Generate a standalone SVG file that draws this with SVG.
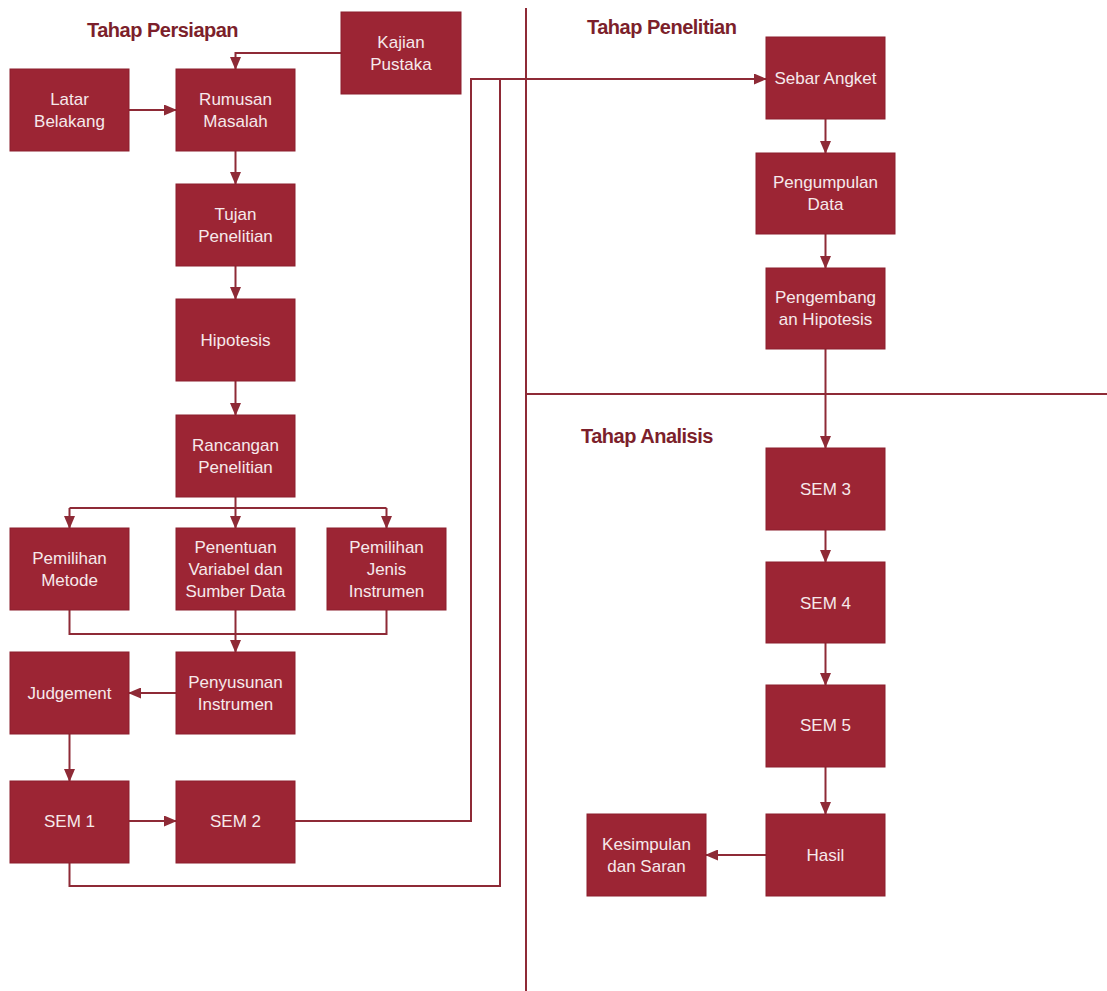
<svg xmlns="http://www.w3.org/2000/svg" width="1107" height="991" viewBox="0 0 1107 991">
<style>
.box{fill:#9c2534;stroke:#8c1f2d;stroke-width:1}
.t{font-family:"Liberation Sans",Arial,sans-serif;font-size:17px;fill:#f6e9eb;text-anchor:middle}
.title{font-family:"Liberation Sans",Arial,sans-serif;font-size:20px;font-weight:bold;fill:#7c1f2b;letter-spacing:-0.5px}
.c{fill:none;stroke:#8e2a36;stroke-width:2}
.a{marker-end:url(#arr)}
</style>
<defs>
<marker id="arr" viewBox="0 0 13 11" refX="12" refY="5.5" markerWidth="13" markerHeight="11" markerUnits="userSpaceOnUse" orient="auto">
<path d="M0,0 L13,5.5 L0,11 z" fill="#8e2a36"/>
</marker>
</defs>
<rect width="1107" height="991" fill="#ffffff"/>

<g id="titles">
<text class="title" x="87" y="37">Tahap Persiapan</text>
<text class="title" x="587" y="34">Tahap Penelitian</text>
<text class="title" x="581" y="443">Tahap Analisis</text>
</g>

<g id="connectors">
<path class="c" d="M526,8 V991"/>
<path class="c" d="M526,394 H1107"/>
<path class="c a" d="M341,53 H235.5 V69"/>
<path class="c a" d="M129,110 H176"/>
<path class="c a" d="M235.5,151 V184"/>
<path class="c a" d="M235.5,266 V299"/>
<path class="c a" d="M235.5,381 V415"/>
<path class="c" d="M235.5,497 V508 M69.5,508 H386.5"/>
<path class="c a" d="M69.5,508 V528"/>
<path class="c a" d="M235.5,508 V528"/>
<path class="c a" d="M386.5,508 V528"/>
<path class="c" d="M69.5,610 V634 H386.5 V610"/>
<path class="c a" d="M235.5,610 V652"/>
<path class="c a" d="M176,693 H129"/>
<path class="c a" d="M69.5,734 V781"/>
<path class="c a" d="M129,821 H176"/>
<path class="c a" d="M295,821 H471 V79 H766"/>
<path class="c" d="M69.5,863 V886 H500 V79"/>
<path class="c a" d="M825.5,119 V153"/>
<path class="c a" d="M825.5,234 V268"/>
<path class="c a" d="M825.5,349 V448"/>
<path class="c a" d="M825.5,530 V562"/>
<path class="c a" d="M825.5,643 V685"/>
<path class="c a" d="M825.5,767 V814"/>
<path class="c a" d="M766,855 H706"/>
</g>

<g id="kajian"><rect class="box" x="341" y="12" width="120" height="82"/><text class="t" x="401" y="48">Kajian</text><text class="t" x="401" y="70">Pustaka</text></g>
<g id="latar"><rect class="box" x="10" y="69" width="119" height="82"/><text class="t" x="69.5" y="105">Latar</text><text class="t" x="69.5" y="127">Belakang</text></g>
<g id="rumusan"><rect class="box" x="176" y="69" width="119" height="82"/><text class="t" x="235.5" y="105">Rumusan</text><text class="t" x="235.5" y="127">Masalah</text></g>
<g id="tujan"><rect class="box" x="176" y="184" width="119" height="82"/><text class="t" x="235.5" y="220">Tujan</text><text class="t" x="235.5" y="242">Penelitian</text></g>
<g id="hipotesis"><rect class="box" x="176" y="299" width="119" height="82"/><text class="t" x="235.5" y="346">Hipotesis</text></g>
<g id="rancangan"><rect class="box" x="176" y="415" width="119" height="82"/><text class="t" x="235.5" y="451">Rancangan</text><text class="t" x="235.5" y="473">Penelitian</text></g>
<g id="metode"><rect class="box" x="10" y="528" width="119" height="82"/><text class="t" x="69.5" y="564">Pemilihan</text><text class="t" x="69.5" y="586">Metode</text></g>
<g id="penentuan"><rect class="box" x="176" y="528" width="119" height="82"/><text class="t" x="235.5" y="553">Penentuan</text><text class="t" x="235.5" y="575">Variabel dan</text><text class="t" x="235.5" y="597">Sumber Data</text></g>
<g id="jenis"><rect class="box" x="327" y="528" width="119" height="82"/><text class="t" x="386.5" y="553">Pemilihan</text><text class="t" x="386.5" y="575">Jenis</text><text class="t" x="386.5" y="597">Instrumen</text></g>
<g id="judgement"><rect class="box" x="10" y="652" width="119" height="82"/><text class="t" x="69.5" y="699">Judgement</text></g>
<g id="penyusunan"><rect class="box" x="176" y="652" width="119" height="82"/><text class="t" x="235.5" y="688">Penyusunan</text><text class="t" x="235.5" y="710">Instrumen</text></g>
<g id="sem1"><rect class="box" x="10" y="781" width="119" height="82"/><text class="t" x="69.5" y="827">SEM 1</text></g>
<g id="sem2"><rect class="box" x="176" y="781" width="119" height="82"/><text class="t" x="235.5" y="827">SEM 2</text></g>

<g id="sebar"><rect class="box" x="766" y="37" width="119" height="82"/><text class="t" x="825.5" y="84">Sebar Angket</text></g>
<g id="pengumpulan"><rect class="box" x="756" y="153" width="139" height="81"/><text class="t" x="825.5" y="188">Pengumpulan</text><text class="t" x="825.5" y="210">Data</text></g>
<g id="pengembangan"><rect class="box" x="766" y="268" width="119" height="81"/><text class="t" x="825.5" y="303">Pengembang</text><text class="t" x="825.5" y="325">an Hipotesis</text></g>
<g id="sem3"><rect class="box" x="766" y="448" width="119" height="82"/><text class="t" x="825.5" y="495">SEM 3</text></g>
<g id="sem4"><rect class="box" x="766" y="562" width="119" height="81"/><text class="t" x="825.5" y="609">SEM 4</text></g>
<g id="sem5"><rect class="box" x="766" y="685" width="119" height="82"/><text class="t" x="825.5" y="731">SEM 5</text></g>
<g id="hasil"><rect class="box" x="766" y="814" width="119" height="82"/><text class="t" x="825.5" y="861">Hasil</text></g>
<g id="kesimpulan"><rect class="box" x="587" y="814" width="119" height="82"/><text class="t" x="646.5" y="850">Kesimpulan</text><text class="t" x="646.5" y="872">dan Saran</text></g>
</svg>
